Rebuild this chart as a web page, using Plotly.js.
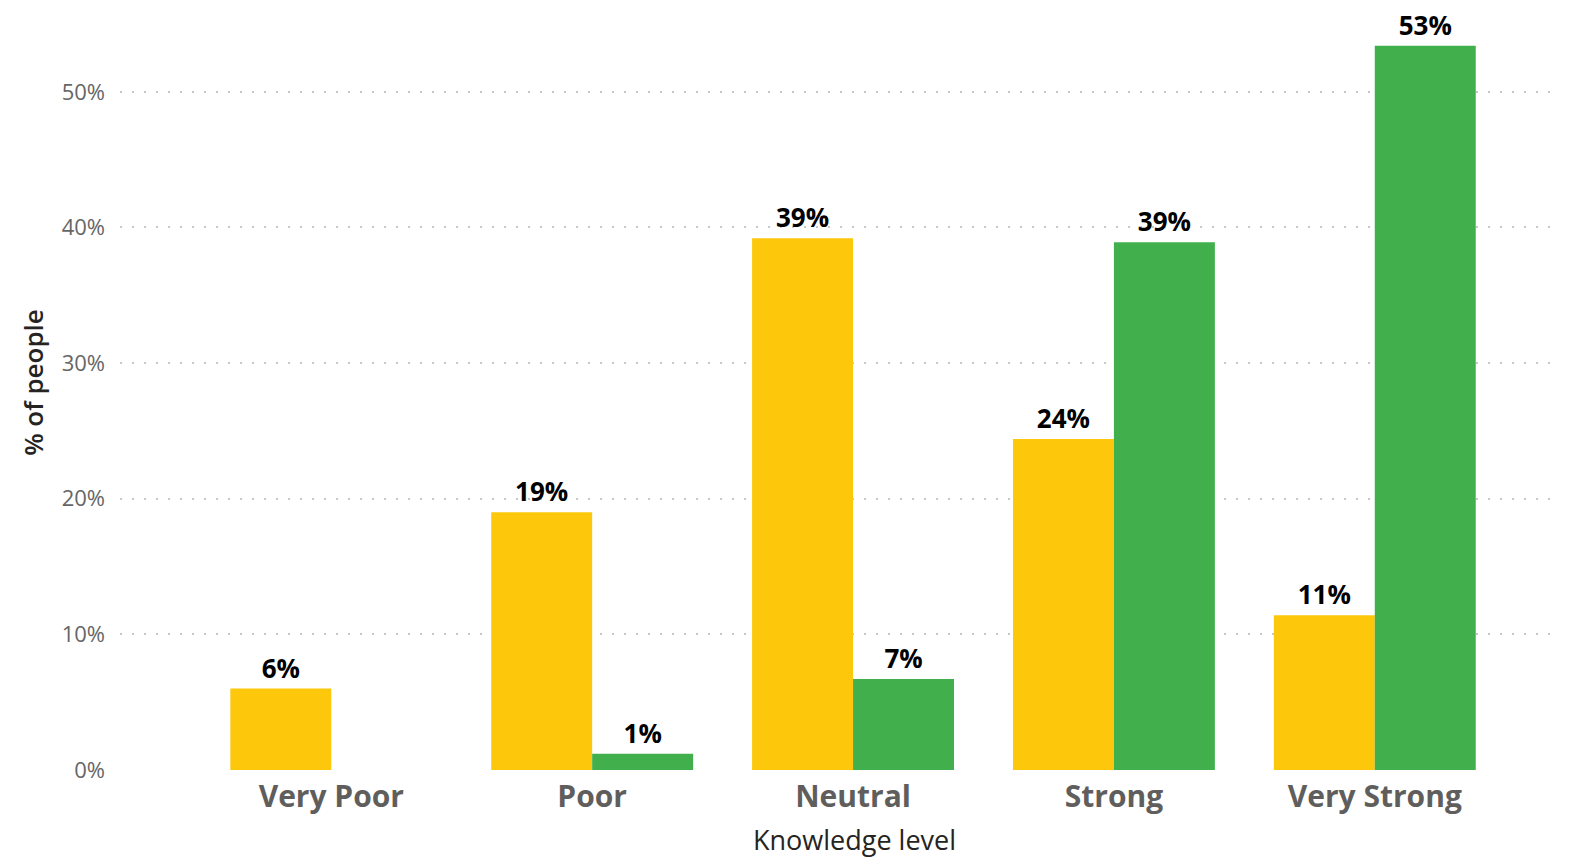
<!DOCTYPE html>
<html>
<head>
<meta charset="utf-8">
<script src="https://cdn.plot.ly/plotly-3.0.1.min.js"></script>
<style>html,body{margin:0;padding:0;background:#fff;width:1587px;height:867px;overflow:hidden;}#chart{width:1587px;height:867px;overflow:hidden;}</style>
</head>
<body>
<div id="chart"></div>
<script>
const categories = ["Very Poor", "Poor", "Neutral", "Strong", "Very Strong"];
const seriesBefore = [6.0, 19.0, 39.2, 24.4, 11.4];
const seriesAfter = [null, 1.2, 6.7, 38.9, 53.4];
const yTickVals = [0, 10, 20, 30, 40, 50];
const yTickText = ["0%", "10%", "20%", "30%", "40%", "50%"];
const xTitle = "Knowledge level";
const yTitle = "% of people";

const FONT = "'Open Sans', 'Noto Sans', sans-serif";
const labelFont = {family: FONT, size: 26, color: "#000000", weight: 700};

const traces = [
  {
    type: "bar", x: categories, y: seriesBefore, name: "Before",
    marker: {color: "#FDC70C"},
    texttemplate: "%{y:.0f}%", textposition: "outside", textfont: labelFont,
    cliponaxis: false, hoverinfo: "skip"
  },
  {
    type: "bar", x: categories, y: seriesAfter, name: "After",
    marker: {color: "#41AF4B"},
    texttemplate: "%{y:.0f}%", textposition: "outside", textfont: labelFont,
    cliponaxis: false, hoverinfo: "skip"
  }
];

const layout = {
  width: 1587, height: 867,
  margin: {l: 120, r: 27, t: 24, b: 97},
  paper_bgcolor: "#ffffff", plot_bgcolor: "#ffffff",
  showlegend: false,
  barmode: "group", bargap: 0.226, bargroupgap: 0,
  font: {family: FONT},
  xaxis: {
    type: "category",
    range: [-0.81, 4.71],
    showgrid: false, zeroline: false, showline: false, ticks: "",
    tickfont: {family: FONT, size: 30, color: "#605E5C", weight: 700},
    ticklabelstandoff: 6
  },
  yaxis: {
    range: [0, 55],
    tickvals: yTickVals, ticktext: yTickText,
    showgrid: true, gridcolor: "#C8C8C8", gridwidth: 2, griddash: "2px,10px",
    zeroline: false, showline: false, ticks: "",
    tickfont: {family: FONT, size: 22, color: "#666666"},
    ticklabelstandoff: 14
  },
  annotations: [
    {text: xTitle, xref: "paper", yref: "paper", x: 0.510, y: -0.0938,
     xanchor: "center", yanchor: "middle", showarrow: false,
     font: {family: FONT, size: 27, color: "#252423"}},
    {text: yTitle, xref: "paper", yref: "paper", x: -0.0604, y: 0.519,
     xanchor: "center", yanchor: "middle", showarrow: false, textangle: -90,
     font: {family: FONT, size: 26, color: "#252423", weight: 600}}
  ]
};

Plotly.newPlot("chart", traces, layout, {displayModeBar: false, staticPlot: true});
</script>
</body>
</html>
